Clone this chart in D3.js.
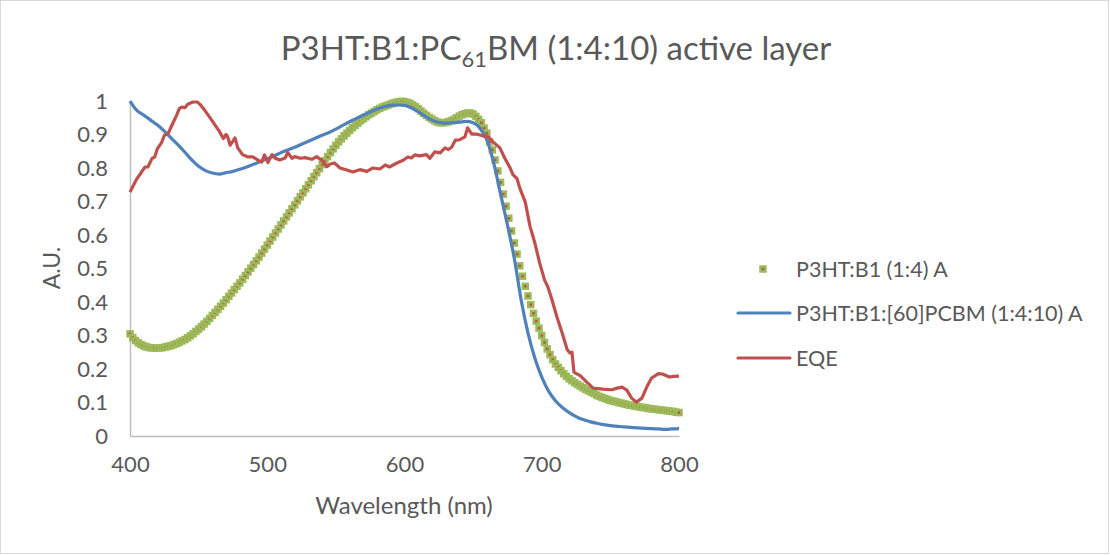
<!DOCTYPE html>
<html>
<head>
<meta charset="utf-8">
<script src="https://cdn.jsdelivr.net/npm/d3@7"></script>
<style>
  html, body { margin: 0; padding: 0; background: #fff; }
  svg { display: block; }
  text { font-family: Lato, "Open Sans", sans-serif; fill: #595959; }
</style>
</head>
<body>
<svg id="chart" width="1110" height="555"></svg>
<script>
// ---------- DATA ----------
const titleMain = "P3HT:B1:PC";
const titleSub = "61";
const titleRest = "BM (1:4:10) active layer";
const xAxisTitle = "Wavelength (nm)";
const yAxisTitle = "A.U.";
const seriesNames = ["P3HT:B1 (1:4) A", "P3HT:B1:[60]PCBM (1:4:10) A", "EQE"];
const xTicks = [400, 500, 600, 700, 800];
const yTicks = [0, 0.1, 0.2, 0.3, 0.4, 0.5, 0.6, 0.7, 0.8, 0.9, 1];

// P3HT:B1 (1:4) A : sampled every 2 nm from 400 to 800 nm
const blendWavelength = d3.range(400, 801, 2);
const blendValues = [
  0.305,0.294,0.285,0.278,0.273,0.269,0.266,0.264,0.263,0.262,
  0.263,0.263,0.264,0.266,0.268,0.270,0.273,0.276,0.280,0.284,
  0.288,0.293,0.299,0.305,0.312,0.319,0.326,0.334,0.342,0.351,
  0.360,0.369,0.378,0.387,0.397,0.407,0.417,0.427,0.437,0.447,
  0.457,0.468,0.479,0.490,0.501,0.512,0.523,0.534,0.546,0.558,
  0.570,0.582,0.594,0.606,0.618,0.630,0.642,0.654,0.666,0.678,
  0.690,0.702,0.714,0.726,0.738,0.750,0.762,0.774,0.786,0.798,
  0.810,0.822,0.834,0.846,0.857,0.868,0.878,0.887,0.896,0.904,
  0.912,0.920,0.927,0.934,0.941,0.947,0.953,0.959,0.964,0.969,
  0.974,0.978,0.982,0.985,0.988,0.991,0.994,0.996,0.998,0.999,
  0.998,0.996,0.993,0.988,0.983,0.977,0.970,0.963,0.957,0.951,
  0.946,0.941,0.937,0.935,0.935,0.936,0.938,0.941,0.945,0.950,
  0.955,0.959,0.962,0.964,0.964,0.961,0.954,0.945,0.935,0.919,
  0.904,0.878,0.854,0.824,0.791,0.757,0.722,0.686,0.650,0.612,
  0.576,0.543,0.508,0.477,0.447,0.418,0.392,0.366,0.343,0.322,
  0.300,0.279,0.260,0.243,0.228,0.215,0.205,0.195,0.186,0.178,
  0.171,0.165,0.159,0.154,0.149,0.144,0.139,0.135,0.131,0.127,
  0.122,0.118,0.115,0.112,0.109,0.106,0.104,0.102,0.100,0.098,
  0.096,0.094,0.092,0.091,0.089,0.088,0.086,0.085,0.084,0.082,
  0.081,0.080,0.079,0.078,0.077,0.076,0.075,0.074,0.073,0.071,
  0.070
];

// P3HT:B1:[60]PCBM (1:4:10) A : every 5 nm
const pcbmWavelength = d3.range(400, 801, 5);
const pcbmValues = [
  1.000,0.972,0.958,0.943,0.928,0.910,0.889,0.869,0.847,0.824,
  0.805,0.792,0.785,0.782,0.786,0.790,0.796,0.803,0.811,0.819,
  0.828,0.836,0.846,0.854,0.862,0.871,0.880,0.889,0.898,0.906,
  0.916,0.927,0.938,0.948,0.958,0.967,0.976,0.983,0.987,0.988,
  0.987,0.980,0.968,0.954,0.943,0.936,0.934,0.935,0.937,0.939,
  0.935,0.919,0.884,0.815,0.722,0.630,0.530,0.406,0.307,0.232,
  0.176,0.134,0.105,0.085,0.070,0.058,0.049,0.043,0.038,0.034,
  0.031,0.029,0.027,0.026,0.024,0.023,0.022,0.021,0.020,0.021,
  0.022
];

// EQE : points
const eqeWavelength = [
  400,403,405,407,409,411,413,416,418,420,423,425,428,431,434,436,438,440,442,444,
  446,449,451,454,458,462,465,468,470,471,473,475,476.5,478.5,482,486,489.5,493,496,498,
  500.5,503.5,505.5,509,513,515,518,520,524,527.5,532.5,536,540,543.5,546,549,553,558,562.5,565,
  567.5,572.5,577,582,586,589,594.5,599,602.5,605,607.5,611,616,618.5,622,626,629.5,632,634.5,637,
  640,644,646,649,653,657,661,664.5,669.5,673,677,679,682,684,688,691.5,695,698.5,702,704.5,
  707.5,711,715,718.5,720.5,722,723.5,728,733,737.5,744.5,751,755,758.5,762,765.5,769,773,776.5,780,
  785,788,793,796,800
];
const eqeValues = [
  0.728,0.752,0.768,0.779,0.792,0.803,0.803,0.828,0.833,0.858,0.876,0.897,0.905,0.932,0.958,0.978,0.982,0.980,0.990,0.994,
  0.997,0.997,0.990,0.975,0.952,0.928,0.910,0.888,0.900,0.895,0.868,0.880,0.890,0.860,0.840,0.833,0.833,0.824,0.818,0.839,
  0.816,0.840,0.830,0.824,0.830,0.846,0.829,0.834,0.829,0.831,0.826,0.834,0.822,0.804,0.812,0.815,0.800,0.794,0.788,0.792,
  0.795,0.790,0.800,0.797,0.809,0.803,0.815,0.823,0.833,0.830,0.839,0.836,0.840,0.829,0.848,0.845,0.860,0.855,0.863,0.883,
  0.884,0.893,0.920,0.901,0.901,0.896,0.893,0.878,0.860,0.830,0.800,0.780,0.768,0.740,0.698,0.625,0.576,0.516,0.466,0.445,
  0.406,0.356,0.306,0.258,0.248,0.250,0.190,0.180,0.160,0.143,0.140,0.138,0.143,0.146,0.137,0.113,0.101,0.113,0.146,0.173,
  0.186,0.185,0.176,0.178,0.179
];

// ---------- STYLE ----------
const colBlend = "#9BBB59", colBlendFill = "#C0504D", colPcbm = "#4F81BD", colEqe = "#C0504D";

// ---------- CHART ----------
const svg = d3.select("#chart");
svg.append("rect").attr("x", 0.5).attr("y", 0.5).attr("width", 1108).attr("height", 553)
  .attr("fill", "#fff").attr("stroke", "#D9D9D9");

const x = d3.scaleLinear().domain([400, 800]).range([130, 679]);
const y = d3.scaleLinear().domain([0, 1]).range([436, 101]);

// axes
const xAxis = d3.axisBottom(x).tickValues(xTicks).tickSize(0).tickPadding(20).tickFormat(d3.format("d"));
const yAxis = d3.axisLeft(y).tickValues(yTicks).tickSize(0).tickPadding(22).tickFormat(d => d === 0 ? "0" : d === 1 ? "1" : d3.format(".1f")(d));
const gx = svg.append("g").attr("transform", "translate(0,436)").call(xAxis);
const gy = svg.append("g").attr("transform", "translate(130,0)").call(yAxis);
[gx, gy].forEach(g => {
  g.select(".domain").attr("stroke", "#BFBFBF").attr("stroke-width", 1.5);
  g.selectAll("text").style("font-size", "22px").attr("fill", "#595959");
});

// series
const blendData = blendWavelength.map((w, i) => [w, blendValues[i]]);
const pcbmData = pcbmWavelength.map((w, i) => [w, pcbmValues[i]]);
const eqeData = eqeWavelength.map((w, i) => [w, eqeValues[i]]);

const ms = 5;
svg.append("g").selectAll("rect").data(blendData).join("rect")
  .attr("x", d => x(d[0]) - ms / 2).attr("y", d => y(d[1]) - ms / 2)
  .attr("width", ms).attr("height", ms)
  .attr("fill", colBlendFill).attr("stroke", colBlend).attr("stroke-width", 2.5);

svg.append("path").datum(pcbmData)
  .attr("d", d3.line().x(d => x(d[0])).y(d => y(d[1])).curve(d3.curveMonotoneX))
  .attr("fill", "none").attr("stroke", colPcbm).attr("stroke-width", 3.2).attr("stroke-linejoin", "round");

svg.append("path").datum(eqeData)
  .attr("d", d3.line().x(d => x(d[0])).y(d => y(d[1])))
  .attr("fill", "none").attr("stroke", colEqe).attr("stroke-width", 3.2).attr("stroke-linejoin", "round");

// title
const title = svg.append("text").attr("x", 556).attr("y", 60).attr("text-anchor", "middle")
  .style("font-size", "33px");
title.append("tspan").text(titleMain);
title.append("tspan").attr("dy", 7).style("font-size", "22px").text(titleSub);
title.append("tspan").attr("dy", -7).text(titleRest);

// axis titles
svg.append("text").attr("x", 404).attr("y", 514).attr("text-anchor", "middle")
  .style("font-size", "24px").text(xAxisTitle);
svg.append("text").attr("transform", "translate(60,268) rotate(-90)").attr("text-anchor", "middle")
  .style("font-size", "23px").text(yAxisTitle);

// legend
const legY = [269, 313, 358];
const leg = svg.append("g");
leg.append("rect").attr("x", 763 - ms / 2).attr("y", legY[0] - ms / 2).attr("width", ms).attr("height", ms)
  .attr("fill", colBlendFill).attr("stroke", colBlend).attr("stroke-width", 2.5);
leg.append("line").attr("x1", 738).attr("x2", 790).attr("y1", legY[1]).attr("y2", legY[1])
  .attr("stroke", colPcbm).attr("stroke-width", 3.2).attr("stroke-linecap", "round");
leg.append("line").attr("x1", 738).attr("x2", 790).attr("y1", legY[2]).attr("y2", legY[2])
  .attr("stroke", colEqe).attr("stroke-width", 3.2).attr("stroke-linecap", "round");
seriesNames.forEach((n, i) => {
  leg.append("text").attr("x", 796).attr("y", legY[i]).attr("dy", "0.35em")
    .style("font-size", "21.5px").text(n);
});
</script>
</body>
</html>
